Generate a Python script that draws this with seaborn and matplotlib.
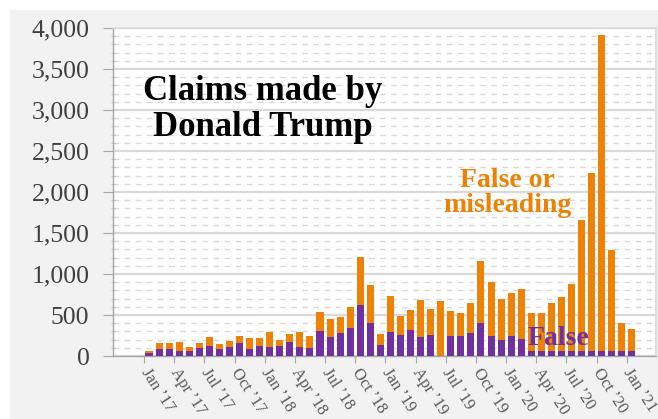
import matplotlib
matplotlib.use("Agg")
import matplotlib.pyplot as plt
import seaborn as sns
from matplotlib.ticker import MultipleLocator, FuncFormatter
from matplotlib.patches import Rectangle

# monthly data, Jan '17 .. Jan '21
MONTHS = [f"{m} {y}" for y in range(2017, 2021)
          for m in ["Jan", "Feb", "Mar", "Apr", "May", "Jun",
                    "Jul", "Aug", "Sep", "Oct", "Nov", "Dec"]] + ["Jan 2021"]

FALSE_OR_MISLEADING = [
    65, 155, 155, 175, 106, 155, 228, 146, 179, 248, 224, 220,     # 2017
    297, 195, 264, 297, 248, 541, 451, 480, 602, 1205, 866, 268,   # 2018
    736, 490, 555, 687, 577, 673, 545, 529, 642, 1155, 906, 691,   # 2019
    764, 817, 529, 529, 642, 724, 874, 1659, 2236, 3915, 1293, 398,  # 2020
    325,                                                           # 2021
]
FALSE_ONLY = [
    40, 82, 82, 61, 61, 94, 126, 82, 114, 155, 80, 126,
    106, 126, 175, 114, 102, 305, 228, 276, 337, 620, 400, 134,
    290, 260, 320, 235, 256, 0, 244, 244, 276, 400, 244, 195,
    240, 203, 65, 65, 65, 65, 65, 65, 65, 65, 65, 65,
    55,
]

TICK_LABELS = ["Jan ’17", "Apr ’17", "Jul ’17", "Oct ’17",
               "Jan ’18", "Apr ’18", "Jul ’18", "Oct ’18",
               "Jan ’19", "Apr ’19", "Jul ’19", "Oct ’19",
               "Jan ’20", "Apr ’20", "Jul ’20", "Oct ’20", "Jan ’21"]

ORANGE = "#EE8207"
PURPLE = "#7030A0"
SERIF = ["Liberation Serif", "DejaVu Serif"]
H = 419  # figure height in px, for placing texts in pixel coords

sns.set_theme(style="white")
plt.rcParams["font.family"] = SERIF

fig = plt.figure(figsize=(6.58, 4.19), dpi=100, facecolor="white")
# grey chart area with a thin white margin on top / left
fig.patches.append(Rectangle((10 / 658, 0), 1, 1 - 10 / H, transform=fig.transFigure,
                             facecolor="#f2f2f2", edgecolor="none", zorder=-10))
ax = fig.add_axes([113 / 658, 1 - 356 / H, 543 / 658, 328 / H])
ax.set_facecolor("white")

sns.barplot(x=MONTHS, y=FALSE_OR_MISLEADING, order=MONTHS, color=ORANGE,
            saturation=1, width=0.7, linewidth=0, ax=ax, zorder=3)
sns.barplot(x=MONTHS, y=FALSE_ONLY, order=MONTHS, color=PURPLE,
            saturation=1, width=0.7, linewidth=0, ax=ax, zorder=4)

ax.set_xlim(-3.58, 50.4)
ax.set_ylim(0, 4000)
ax.set_xlabel("")
ax.set_ylabel("")

# y axis: major every 500 (solid grid), minor every 100 (dashed grid)
ax.yaxis.set_major_locator(MultipleLocator(500))
ax.yaxis.set_minor_locator(MultipleLocator(100))
ax.yaxis.set_major_formatter(FuncFormatter(lambda v, p: f"{int(v):,}"))
ax.grid(False)
ax.grid(axis="y", which="major", color="#d9d9d9", lw=1.6, zorder=0)
ax.grid(axis="y", which="minor", color="#d9d9d9", lw=1.0, ls=(0, (4, 4)), zorder=0)
ax.set_axisbelow(True)

ax.tick_params(axis="y", which="major", direction="out", length=7, width=0.8,
               color="#a6a6a6", pad=10, labelsize=18.5, labelcolor="#404040", left=True)
ax.tick_params(axis="y", which="minor", direction="inout", length=3, width=0.6,
               color="#bfbfbf", left=True)

# x axis: ticks between months, one label per quarter
ax.set_xticks([i - 0.5 for i in range(0, len(MONTHS), 3)])
ax.set_xticklabels(TICK_LABELS, rotation=-57, ha="left", va="center",
                   rotation_mode="anchor")
ax.tick_params(axis="x", which="major", direction="out", length=5, width=0.8,
               color="#a6a6a6", pad=5, labelsize=12, labelcolor="#595959", bottom=True)
ax.tick_params(axis="x", which="minor", bottom=False)

for side in ["top", "right"]:
    ax.spines[side].set_color("#d9d9d9")
    ax.spines[side].set_linewidth(1.2)
for side in ["left", "bottom"]:
    ax.spines[side].set_color("#a6a6a6")
    ax.spines[side].set_linewidth(1.0)

# annotations (pixel positions measured from the top-left corner)
ax.text(263, H - 109, "Claims made by\nDonald Trump", transform=None, fontsize=25,
        fontweight="bold", color="black", ha="center", va="center",
        linespacing=1.12, zorder=6)
ax.text(507, H - 193, "False or\nmisleading", transform=None, fontsize=20,
        fontweight="bold", color=ORANGE, ha="center", va="center",
        linespacing=1.05, zorder=6)
ax.text(558, H - 338, "False", transform=None, fontsize=20,
        fontweight="bold", color=PURPLE, ha="center", va="center", zorder=6)

fig.savefig("out.png", dpi=100, facecolor=fig.get_facecolor())
